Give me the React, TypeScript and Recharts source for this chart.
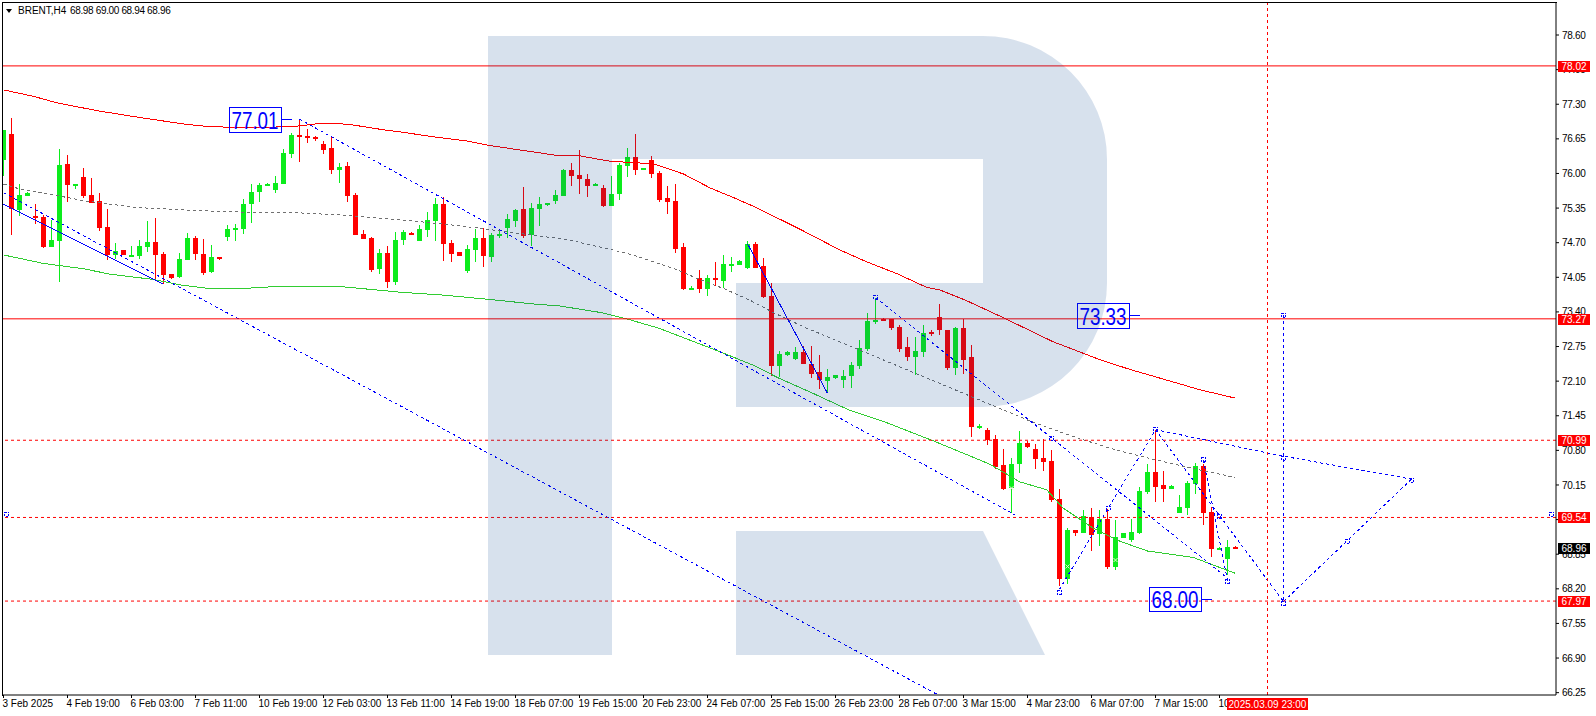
import React from 'react';
import { ComposedChart, Bar, Line, Scatter, XAxis, YAxis, ReferenceLine, ReferenceDot } from 'recharts';

// H4 candles
const opens = [
  76.25, 76.74, 75.31, 75.58, 75.20, 75.18, 74.62, 74.73, 76.18, 75.76,
  75.93, 75.60, 75.48, 74.99, 74.47, 74.56, 74.45, 74.45, 74.62, 74.71,
  74.49, 74.11, 74.06, 74.37, 74.79, 74.49, 74.15, 74.43, 74.81, 74.94,
  74.96, 75.43, 75.65, 75.76, 75.69, 75.80, 76.37, 76.72, 76.70, 76.68,
  76.55, 76.48, 76.06, 76.14, 75.60, 74.86, 74.79, 74.21, 74.51, 73.96,
  74.75, 74.88, 74.73, 74.94, 75.11, 75.43, 74.69, 74.53, 74.17, 74.56,
  74.79, 74.43, 74.84, 74.98, 75.11, 75.33, 74.84, 75.33, 75.41, 75.48,
  75.58, 76.07, 75.97, 75.90, 75.76, 75.73, 75.39, 75.61, 76.14, 76.31,
  76.08, 76.25, 76.01, 75.54, 75.48, 74.62, 73.83, 74.04, 73.83, 74.04,
  73.98, 74.28, 74.28, 74.22, 74.68, 74.26, 73.70, 72.38, 72.59, 72.52,
  72.65, 72.42, 72.27, 72.10, 72.16, 72.12, 72.20, 72.38, 72.70, 73.21,
  73.27, 73.27, 73.12, 72.74, 72.55, 72.65, 73.02, 73.30, 73.06, 72.35,
  73.10, 72.56, 71.24, 71.18, 71.01, 70.53, 70.09, 70.54, 70.94, 70.83,
  70.66, 70.60, 69.89, 68.38, 69.30, 69.25, 69.55, 69.23, 69.51, 68.61,
  69.15, 69.12, 69.25, 70.02, 70.39, 70.15, 70.07, 69.62, 69.72, 70.17,
  70.51, 69.64, 68.95, 68.76, 68.98,
];
const highs = [
  76.82, 77.04, 75.81, 75.66, 75.43, 75.22, 75.13, 76.46, 76.35, 75.81,
  76.10, 75.91, 75.63, 75.33, 74.69, 74.56, 74.64, 74.75, 75.11, 75.16,
  74.52, 74.11, 74.51, 74.88, 74.83, 74.77, 74.66, 74.43, 75.03, 75.05,
  75.52, 75.81, 75.82, 75.82, 75.95, 76.46, 76.76, 77.02, 76.83, 76.70,
  76.61, 76.68, 76.20, 76.21, 75.63, 74.94, 74.81, 74.58, 74.64, 74.90,
  74.94, 74.90, 75.03, 75.28, 75.54, 75.56, 74.75, 74.53, 74.66, 74.96,
  74.98, 74.88, 74.94, 75.24, 75.33, 75.75, 75.45, 75.56, 75.45, 75.69,
  76.08, 76.20, 76.44, 75.99, 75.82, 75.78, 75.95, 76.20, 76.48, 76.74,
  76.10, 76.33, 76.05, 75.76, 75.80, 74.69, 73.89, 74.19, 74.09, 74.34,
  74.47, 74.43, 74.37, 74.73, 74.71, 74.41, 73.94, 72.67, 72.67, 72.74,
  72.76, 72.76, 72.59, 72.33, 72.21, 72.31, 72.46, 72.87, 73.38, 73.66,
  73.28, 73.27, 73.15, 72.93, 72.93, 73.15, 73.06, 73.55, 73.06, 73.12,
  73.27, 72.78, 71.30, 71.22, 71.09, 70.83, 70.66, 71.16, 70.98, 70.92,
  71.01, 70.81, 70.07, 69.34, 69.30, 69.68, 69.72, 69.68, 69.70, 69.49,
  69.25, 69.51, 70.11, 70.54, 71.18, 70.41, 70.15, 69.96, 70.22, 70.56,
  70.54, 69.74, 68.99, 69.12, 69.00,
];
const lows = [
  75.95, 74.84, 75.20, 75.58, 75.06, 74.60, 74.62, 73.96, 75.47, 75.71,
  75.53, 75.45, 74.92, 74.37, 74.39, 74.47, 74.45, 74.39, 74.52, 74.00,
  73.92, 74.02, 74.04, 74.37, 74.37, 74.09, 74.13, 74.37, 74.73, 74.73,
  74.86, 75.07, 75.46, 75.76, 75.63, 75.80, 76.29, 76.21, 76.57, 76.61,
  76.37, 75.99, 75.82, 75.45, 74.84, 74.77, 74.15, 74.11, 73.85, 73.91,
  74.66, 74.84, 74.73, 74.81, 74.73, 74.36, 74.34, 74.45, 74.13, 74.34,
  74.24, 74.34, 74.79, 74.79, 75.00, 74.79, 74.64, 75.01, 75.39, 75.43,
  75.58, 75.76, 75.61, 75.56, 75.76, 75.37, 75.39, 75.50, 75.93, 75.97,
  76.07, 75.92, 75.46, 75.24, 74.50, 73.81, 73.83, 73.75, 73.70, 73.89,
  73.85, 74.15, 74.28, 74.20, 74.22, 73.66, 72.20, 72.18, 72.57, 72.50,
  72.42, 72.16, 71.95, 71.88, 72.14, 71.97, 71.97, 72.33, 72.67, 73.17,
  73.23, 73.06, 72.65, 72.48, 72.21, 72.55, 72.95, 72.97, 72.31, 72.21,
  72.23, 71.05, 71.20, 70.90, 70.45, 70.06, 69.62, 70.37, 70.84, 70.45,
  70.41, 69.83, 68.25, 68.29, 69.19, 69.25, 68.91, 69.00, 68.57, 68.55,
  69.15, 69.08, 69.23, 69.98, 69.83, 69.83, 70.07, 69.62, 69.59, 69.98,
  69.40, 68.80, 68.93, 68.46, 68.94,
];
const closes = [
  76.82, 75.33, 75.60, 75.63, 75.16, 74.62, 74.75, 76.16, 75.78, 75.80,
  75.58, 75.45, 74.98, 74.47, 74.54, 74.47, 74.47, 74.64, 74.71, 74.47,
  74.09, 74.04, 74.39, 74.79, 74.49, 74.13, 74.43, 74.39, 74.96, 74.98,
  75.43, 75.65, 75.78, 75.80, 75.82, 76.38, 76.72, 76.68, 76.68, 76.65,
  76.44, 76.06, 76.12, 75.58, 74.84, 74.77, 74.19, 74.51, 73.96, 74.75,
  74.90, 74.84, 74.96, 75.13, 75.43, 74.68, 74.49, 74.45, 74.58, 74.79,
  74.45, 74.84, 74.86, 75.15, 75.31, 74.83, 75.35, 75.43, 75.45, 75.60,
  76.07, 75.95, 75.90, 75.76, 75.80, 75.39, 75.61, 76.16, 76.31, 76.07,
  76.10, 75.99, 75.50, 75.46, 74.58, 73.83, 73.85, 73.83, 74.04, 74.00,
  74.30, 74.30, 74.36, 74.68, 74.22, 73.68, 72.38, 72.61, 72.65, 72.65,
  72.42, 72.23, 72.12, 72.18, 72.21, 72.20, 72.40, 72.72, 73.23, 73.25,
  73.23, 73.10, 72.70, 72.55, 72.67, 73.00, 72.98, 73.06, 72.35, 73.10,
  72.50, 71.24, 71.26, 70.99, 70.49, 70.07, 70.54, 70.94, 70.86, 70.64,
  70.58, 69.87, 68.38, 69.30, 69.25, 69.57, 69.21, 69.51, 68.61, 69.17,
  69.25, 69.27, 70.04, 70.39, 70.11, 70.07, 70.13, 69.74, 70.19, 70.51,
  69.62, 68.95, 68.97, 68.99, 68.96,
];

const redAverage = [
  [0, 77.57], [3.7, 77.45], [6.85, 77.32], [12.06, 77.17], [17.5, 77.04], [22.5, 76.93], [25.6, 76.88],
  [30.4, 76.86], [36.2, 76.88], [39.6, 76.94], [41.4, 76.94], [43.3, 76.92], [47.5, 76.82], [49.6, 76.78],
  [53.7, 76.69], [57.9, 76.61], [60.6, 76.53], [64.6, 76.44], [69.6, 76.33], [72.1, 76.33], [74.6, 76.26],
  [76.2, 76.22], [78.7, 76.21], [81.7, 76.16], [85, 75.99], [88.3, 75.73], [91.2, 75.55], [94.1, 75.36],
  [99.6, 74.95], [104.6, 74.56], [107.9, 74.34], [111.65, 74.12], [115.4, 73.86], [117.1, 73.81],
  [120.4, 73.61], [125, 73.29], [131.2, 72.84], [137.1, 72.5], [140.8, 72.32], [147, 72.05], [149.5, 71.94], [154, 71.78],
];
const grayAverage = [
  [0, 75.8], [2, 75.71], [5.8, 75.61], [10, 75.49], [16.6, 75.36], [24.6, 75.3], [30.8, 75.27], [37, 75.26],
  [43.3, 75.21], [49.6, 75.13], [55, 75.05], [59.6, 74.97], [66.2, 74.84], [70.4, 74.76], [75.4, 74.59],
  [78.7, 74.47], [84.2, 74.19], [87, 74.01], [90, 73.84], [93.3, 73.62], [96.2, 73.39], [100, 73.12],
  [103.7, 72.89], [107.9, 72.63], [112.5, 72.34], [116.2, 72.11], [120.8, 71.82], [127.1, 71.43], [128.3, 71.35],
  [133.7, 71.06], [139.2, 70.8], [144.1, 70.62], [148.7, 70.46], [154, 70.29],
];
const greenAverage = [
  [0, 74.47], [5, 74.31], [10, 74.21], [13.3, 74.11], [18.7, 74.01], [22, 73.91], [25.6, 73.84], [30, 73.84],
  [34.4, 73.88], [42.5, 73.87], [45.4, 73.83], [49.6, 73.77], [54.6, 73.72], [60.4, 73.64], [66.2, 73.55],
  [69.6, 73.51], [74.6, 73.39], [77.9, 73.27], [82, 73.09], [85.8, 72.87], [89.6, 72.65], [93.7, 72.4],
  [97, 72.15], [101.2, 71.87], [105.8, 71.55], [110.4, 71.32], [116.2, 70.98], [119.6, 70.77], [123.3, 70.54],
  [127, 70.21], [130.4, 70.06], [132.5, 69.71], [136.2, 69.34], [139.6, 69.09], [143, 68.91], [148.7, 68.79], [154, 68.49],
];

// hand drawn trend lines and the forecast
const solidTrends = [
  [[0, 75.42], [20, 73.92]],
  [[93, 74.68], [103, 71.87]],
];
const dashedTrends = [
  [[0, 75.64], [116.8, 66.21]],
  [[37, 77.02], [126.4, 69.59]],
  [[109, 73.67], [153, 68.4]],
  [[132, 68.19], [144, 71.19]],
  [[144, 71.19], [160, 70.69], [176, 70.26]],
  [[144, 71.19], [160, 67.96]],
  [[150, 70.62], [153, 68.35]],
  [[160, 73.34], [160, 67.96]],
  [[160, 67.96], [176, 70.26]],
];
const forecastMarks = [
  [0.4, 69.6], [109, 73.68], [131, 71.03], [132, 68.13], [138.1, 69.71], [144, 71.2], [150, 70.62], [152, 69.55], [153, 68.33],
  [160, 73.34], [160, 70.65], [160, 67.92], [168, 69.09], [176, 70.24], [193.5, 69.6],
];
const paleMarks = [[126, 70.09], [133, 68.62], [139, 68.74]];

const priceTicks = [
  78.6, 77.95, 77.3, 76.65, 76, 75.35, 74.7, 74.05, 73.4, 72.75,
  72.1, 71.45, 70.8, 70.15, 69.5, 68.85, 68.2, 67.55, 66.9, 66.25,
];
const timeTickIndex = [0, 8, 16, 24, 32, 40, 48, 56, 64, 72, 80, 88, 96, 104, 112, 120, 128, 136, 144, 152];
const timeTickLabels = [
  '3 Feb 2025', '4 Feb 19:00', '6 Feb 03:00', '7 Feb 11:00', '10 Feb 19:00', '12 Feb 03:00', '13 Feb 11:00',
  '14 Feb 19:00', '18 Feb 07:00', '19 Feb 15:00', '20 Feb 23:00', '24 Feb 07:00', '25 Feb 15:00', '26 Feb 23:00',
  '28 Feb 07:00', '3 Mar 15:00', '4 Mar 23:00', '6 Mar 07:00', '7 Mar 15:00', '10 Mar 23:00',
];

const solidLevels = [78.02, 73.27];
const dashedLevels = [70.99, 69.54, 67.97];
const lastPrice = 68.96;
const crosshairIndex = 158;
const crosshairLabel = '2025.03.09 23:00';
const boxedLabels = [
  { i: 36, price: 77.01 },
  { i: 142, price: 73.33 },
  { i: 151, price: 68.0 },
];

const candles = opens.map((o, i) => ({ i, range: [lows[i], highs[i]], open: o, high: highs[i], low: lows[i], close: closes[i] }));
const toPoints = (rows: number[][]) => rows.map(([i, p]) => ({ i, p }));

const FONT = '"Liberation Sans", Arial, sans-serif';
const RED = '#ff0000';
const GREEN = '#0cec1c';
const BLUE = '#0000ff';
const X_DOMAIN = [-0.1875, 194.0625];
const Y_DOMAIN = [66.206, 79.22];

function Candle(props: any) {
  const { x, y, width, height, payload } = props;
  const { open, high, low, close } = payload;
  const perUnit = height / (high - low);
  const left = Math.floor(x + width / 2);
  const up = close >= open;
  const color = up ? GREEN : RED;
  const bodyTop = Math.round(y + (high - Math.max(open, close)) * perUnit);
  const bodyBottom = Math.round(y + (high - Math.min(open, close)) * perUnit);
  return (
    <g shapeRendering="crispEdges">
      <rect x={left} y={Math.round(y)} width={1} height={Math.max(1, Math.round(height))} fill={color} />
      <rect x={left - 2} y={bodyTop} width={5} height={Math.max(2, bodyBottom - bodyTop)} fill={color} />
    </g>
  );
}

// second, empty right axis: its ticks are the price tags and sit above the real tick labels
function PriceTag({ y, payload }: any) {
  const value = payload.value;
  return (
    <g>
      <rect x={1558} y={Math.round(y) - 5} width={32} height={11} fill={value === lastPrice ? '#000' : RED} shapeRendering="crispEdges" />
      <text x={1574} y={Math.round(y) + 4} fill="#fff" fontSize={10} fontFamily={FONT} textAnchor="middle">
        {value.toFixed(2)}
      </text>
    </g>
  );
}

function TimeTag({ x }: any) {
  return (
    <g>
      <rect x={x - 41} y={698} width={81} height={12} fill={RED} shapeRendering="crispEdges" />
      <text x={x} y={707.5} fill="#fff" fontSize={10} fontFamily={FONT} textAnchor="middle">
        {crosshairLabel}
      </text>
    </g>
  );
}

function BoxedLabel({ cx, cy, value }: any) {
  return (
    <g>
      <rect x={cx - 62.5} y={cy - 12} width={52.5} height={24.5} fill="none" stroke={BLUE} strokeWidth={1} shapeRendering="crispEdges" />
      <line x1={cx - 10} x2={cx} y1={cy} y2={cy} stroke={BLUE} strokeWidth={1} shapeRendering="crispEdges" />
      <text x={cx - 60} y={cy + 9} fill={BLUE} fontSize={23} fontFamily={FONT} textLength={47} lengthAdjust="spacingAndGlyphs">
        {value.toFixed(2)}
      </text>
    </g>
  );
}

function ForecastMark({ cx, cy }: any) {
  return <rect x={cx - 2} y={cy - 2} width={4} height={4} fill="none" stroke={BLUE} strokeWidth={1} strokeDasharray="2 1" shapeRendering="crispEdges" />;
}

function PaleMark({ cx, cy }: any) {
  return <path d={`M${cx - 2},${cy - 2}L${cx + 2},${cy + 2}M${cx - 2},${cy + 2}L${cx + 2},${cy - 2}`} stroke="#e8f4d0" strokeWidth={1} fill="none" />;
}

function TimeTick({ x, y, index }: any) {
  return (
    <text x={x - 1} y={y + 7} fill="#000" fontSize={10} fontFamily={FONT} textAnchor="start">
      {timeTickLabels[index]}
    </text>
  );
}

export default function App() {
  return (
    <div style={{ position: 'absolute', left: 0, top: 0, width: 1596, height: 716, background: '#fff', overflow: 'hidden' }}>
      <ComposedChart width={1596} height={716} data={candles} margin={{ top: 2, right: 0, bottom: 0, left: 2 }}>
        <XAxis
          dataKey="i"
          type="number"
          domain={X_DOMAIN}
          ticks={timeTickIndex}
          interval={0}
          height={20}
          tickSize={3}
          tickMargin={2}
          tick={<TimeTick />}
          stroke="#000"
          allowDataOverflow
        />
        <XAxis
          xAxisId="tag"
          dataKey="i"
          type="number"
          domain={X_DOMAIN}
          ticks={[crosshairIndex]}
          interval={0}
          height={1}
          axisLine={false}
          tickLine={false}
          tick={<TimeTag />}
          allowDataOverflow
        />
        <YAxis
          orientation="right"
          type="number"
          domain={Y_DOMAIN}
          ticks={priceTicks}
          interval={0}
          width={39}
          tickSize={3}
          tickMargin={3}
          tickFormatter={(v: number) => v.toFixed(2)}
          tick={{ fill: '#000', fontSize: 10, fontFamily: FONT, letterSpacing: -0.3 }}
          stroke="#000"
          allowDataOverflow
        />
        <YAxis
          yAxisId="tag"
          orientation="right"
          type="number"
          domain={Y_DOMAIN}
          ticks={[...solidLevels, ...dashedLevels, lastPrice]}
          interval={0}
          width={1}
          axisLine={false}
          tickLine={false}
          tick={<PriceTag />}
          allowDataOverflow
        />
        <Bar dataKey="range" barSize={7} shape={<Candle />} isAnimationActive={false} />
        <Line data={toPoints(redAverage)} dataKey="p" stroke={RED} strokeWidth={1} shapeRendering="crispEdges" dot={false} activeDot={false} isAnimationActive={false} />
        <Line data={toPoints(grayAverage)} dataKey="p" stroke="#707070" strokeWidth={1} strokeDasharray="3 3" shapeRendering="crispEdges" dot={false} activeDot={false} isAnimationActive={false} />
        <Line data={toPoints(greenAverage)} dataKey="p" stroke="#32cd32" strokeWidth={1} shapeRendering="crispEdges" dot={false} activeDot={false} isAnimationActive={false} />
        {solidTrends.map((rows, n) => (
          <Line key={'s' + n} data={toPoints(rows)} dataKey="p" stroke={BLUE} strokeWidth={1} shapeRendering="crispEdges" dot={false} activeDot={false} isAnimationActive={false} />
        ))}
        {dashedTrends.map((rows, n) => (
          <Line key={'d' + n} data={toPoints(rows)} dataKey="p" stroke={BLUE} strokeWidth={1} strokeDasharray="3 3" shapeRendering="crispEdges" dot={false} activeDot={false} isAnimationActive={false} />
        ))}
        <Scatter data={toPoints(forecastMarks)} dataKey="p" shape={<ForecastMark />} isAnimationActive={false} />
        <Scatter data={toPoints(paleMarks)} dataKey="p" shape={<PaleMark />} isAnimationActive={false} />
        {solidLevels.map((v) => (
          <ReferenceLine key={v} y={v} stroke={RED} strokeWidth={1} />
        ))}
        {dashedLevels.map((v) => (
          <ReferenceLine key={v} y={v} stroke={RED} strokeWidth={1} strokeDasharray="3 3" />
        ))}
        <ReferenceLine x={crosshairIndex} stroke={RED} strokeWidth={1} strokeDasharray="3 3" />
        {boxedLabels.map((b) => (
          <ReferenceDot key={b.i} x={b.i} y={b.price} r={1} shape={<BoxedLabel value={b.price} />} />
        ))}
      </ComposedChart>

      {/* chart frame, top and left edges */}
      <div style={{ position: 'absolute', left: 2, top: 2, width: 1554, height: 693, borderTop: '1px solid #000', borderLeft: '1px solid #000', pointerEvents: 'none' }} />

      {/* title */}
      <div style={{ position: 'absolute', left: 6, top: 9, width: 0, height: 0, borderLeft: '3.5px solid transparent', borderRight: '3.5px solid transparent', borderTop: '4px solid #000' }} />
      <div style={{ position: 'absolute', left: 18, top: 5, fontFamily: FONT, fontSize: 10, lineHeight: '12px', whiteSpace: 'pre', color: '#000' }}>BRENT,H4</div>
      <div style={{ position: 'absolute', left: 70, top: 5, fontFamily: FONT, fontSize: 10, lineHeight: '12px', whiteSpace: 'pre', color: '#000', letterSpacing: -0.35 }}>68.98 69.00 68.94 68.96</div>

      {/* broker watermark, lies over everything */}
      <svg width={1596} height={716} style={{ position: 'absolute', left: 0, top: 0, pointerEvents: 'none' }}>
        <path
          d="M488,36 H983 A124,123 0 0 1 1107,159 V283 A124,124 0 0 1 983,407 H736 V283 H983 V159 H612 V655 H488 Z M736,531 H983 L1045,655 H736 Z"
          fill="rgb(0,64,140)"
          fillOpacity={0.157}
        />
      </svg>
    </div>
  );
}
